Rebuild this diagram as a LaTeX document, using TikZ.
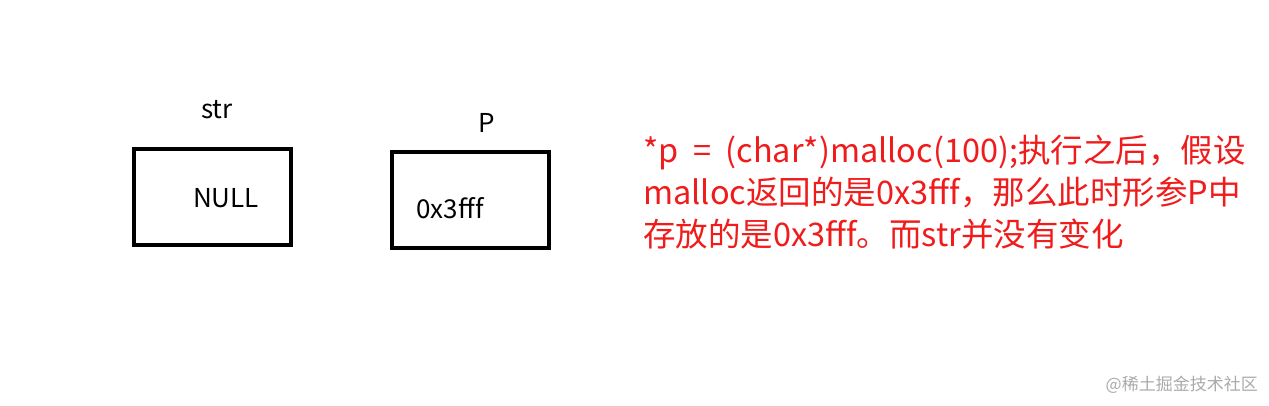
\documentclass[tikz,border=0pt]{standalone}
\usepackage{fontspec}
\setmainfont{Noto Sans CJK SC}
\usepackage{tikz}

\definecolor{notered}{RGB}{240,28,28}
\definecolor{markgray}{RGB}{170,170,170}

\begin{document}
\begin{tikzpicture}[x=1pt, y=1pt,
	cell/.style={shape=rectangle, draw=black, line width=4pt, minimum width=157pt, minimum height=96pt, inner sep=0pt},
	word/.style={inner sep=0pt, font=\fontsize{26}{30}\selectfont}]
	
	\useasboundingbox (0, 0) rectangle (1269, 406);
	
	\node[cell] (strbox) at (212.5, 209)     {};
	\node[cell] (pbox) at (470.5, 206)     {};
	
	\node[word] (strname) at (217, 296)     {str};
	\node[word] (pname) at (487, 283)     {P};
	\node[word] (nullval) at (226, 208)     {NULL};
	\node[word] (addrval) at (450, 198)     {0x3fff};
	
	\node[inner sep=0pt, anchor=west, align=left, text=notered, font=\fontsize{32.5}{42}\selectfont] (note) at (643, 214)
	{*p\ \ =\ \ (char*)malloc(100);执行之后，假设\\malloc返回的是0x3fff，那么此时形参P中\\存放的是0x3fff。而str并没有变化};
	
	\node[inner sep=0pt, anchor=east, text=markgray, font=\fontsize{17}{20}\selectfont] (mark) at (1258, 21) {@稀土掘金技术社区};
	
\end{tikzpicture}
\end{document}
